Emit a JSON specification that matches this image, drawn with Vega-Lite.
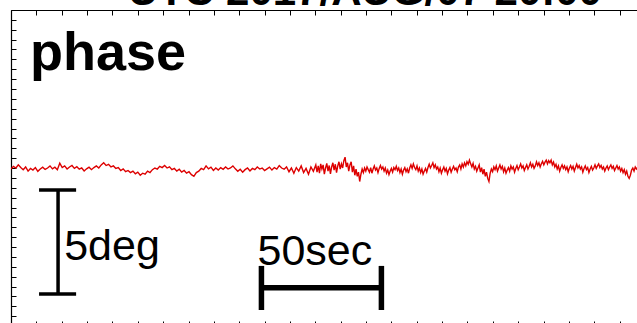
{
  "$schema": "https://vega.github.io/schema/vega-lite/v6.json",
  "width": 634,
  "height": 316,
  "autosize": {"type": "none"},
  "padding": {"left": 11, "top": 10, "right": 0, "bottom": 0},
  "background": "white",
  "config": {
    "view": {"stroke": null},
    "axis": {"grid": false, "labels": false, "domainColor": "black", "domainWidth": 1.2, "tickColor": "black", "tickWidth": 1}
  },
  "datasets": {
    "phase": [
      {"t":0,"v":0.05},{"t":1,"v":0.18},{"t":2,"v":0.10},{"t":3,"v":0.25},{"t":4,"v":0.12},{"t":5,"v":0.02},{"t":6,"v":0.15},{"t":7,"v":-0.05},{"t":8,"v":0.08},{"t":9,"v":0.00},
      {"t":10,"v":0.12},{"t":11,"v":-0.06},{"t":12,"v":0.05},{"t":13,"v":0.14},{"t":14,"v":0.03},{"t":15,"v":0.10},{"t":16,"v":0.20},{"t":17,"v":0.06},{"t":18,"v":0.14},{"t":19,"v":0.02},
      {"t":20,"v":0.33},{"t":21,"v":0.12},{"t":22,"v":0.20},{"t":23,"v":0.05},{"t":24,"v":0.15},{"t":25,"v":0.22},{"t":26,"v":0.08},{"t":27,"v":0.16},{"t":28,"v":0.04},{"t":29,"v":0.10},
      {"t":30,"v":-0.04},{"t":31,"v":0.06},{"t":32,"v":0.14},{"t":33,"v":0.02},{"t":34,"v":0.12},{"t":35,"v":0.20},{"t":36,"v":0.10},{"t":37,"v":0.25},{"t":38,"v":0.35},{"t":39,"v":0.22},
      {"t":40,"v":0.28},{"t":41,"v":0.15},{"t":42,"v":0.20},{"t":43,"v":0.08},{"t":44,"v":0.12},{"t":45,"v":-0.02},{"t":46,"v":0.06},{"t":47,"v":-0.08},{"t":48,"v":-0.02},{"t":49,"v":-0.12},
      {"t":50,"v":-0.05},{"t":51,"v":-0.18},{"t":52,"v":-0.10},{"t":53,"v":-0.25},{"t":54,"v":-0.15},{"t":55,"v":-0.20},{"t":56,"v":-0.05},{"t":57,"v":-0.12},{"t":58,"v":0.02},{"t":59,"v":0.10},
      {"t":60,"v":0.05},{"t":61,"v":0.18},{"t":62,"v":0.12},{"t":63,"v":0.22},{"t":64,"v":0.10},{"t":65,"v":0.16},{"t":66,"v":0.02},{"t":67,"v":0.08},{"t":68,"v":-0.05},{"t":69,"v":0.04},
      {"t":70,"v":-0.10},{"t":71,"v":-0.02},{"t":72,"v":-0.15},{"t":73,"v":-0.08},{"t":74,"v":-0.22},{"t":75,"v":-0.30},{"t":76,"v":-0.12},{"t":77,"v":-0.05},{"t":78,"v":0.08},{"t":79,"v":0.02},
      {"t":80,"v":0.20},{"t":81,"v":0.06},{"t":82,"v":0.14},{"t":83,"v":-0.02},{"t":84,"v":0.10},{"t":85,"v":0.00},{"t":86,"v":0.12},{"t":87,"v":0.04},{"t":88,"v":0.15},{"t":89,"v":0.05},
      {"t":90,"v":0.10},{"t":91,"v":0.20},{"t":92,"v":0.06},{"t":93,"v":-0.06},{"t":94,"v":0.04},{"t":95,"v":-0.10},{"t":96,"v":0.02},{"t":97,"v":0.10},{"t":98,"v":-0.04},{"t":99,"v":0.08},
      {"t":100,"v":0.02},{"t":101,"v":0.15},{"t":102,"v":0.05},{"t":103,"v":0.10},{"t":104,"v":-0.02},{"t":105,"v":0.06},{"t":106,"v":0.14},{"t":107,"v":0.00},{"t":108,"v":0.12},{"t":109,"v":0.05},
      {"t":110,"v":0.22},{"t":111,"v":0.10},{"t":112,"v":0.04},{"t":113,"v":0.15},{"t":114,"v":-0.08},{"t":115,"v":0.10},{"t":116,"v":-0.15},{"t":117,"v":0.12},{"t":118,"v":-0.05},{"t":119,"v":0.20},
      {"t":120,"v":-0.12},{"t":121,"v":0.08},{"t":122,"v":-0.20},{"t":123,"v":0.15},{"t":124,"v":-0.06},{"t":125,"v":0.25},
      {"t":125.5,"v":-0.10},{"t":126,"v":0.20},{"t":126.5,"v":-0.15},{"t":127,"v":0.30},{"t":127.5,"v":0.05},{"t":128,"v":0.25},{"t":128.5,"v":-0.20},{"t":129,"v":0.10},{"t":129.5,"v":0.32},{"t":130,"v":-0.05},
      {"t":130.5,"v":0.22},{"t":131,"v":-0.18},{"t":131.5,"v":0.15},{"t":132,"v":0.35},{"t":132.5,"v":0.00},{"t":133,"v":0.28},{"t":133.5,"v":-0.12},{"t":134,"v":0.20},{"t":134.5,"v":0.40},{"t":135,"v":0.05},
      {"t":135.5,"v":0.30},{"t":136,"v":0.10},{"t":136.5,"v":0.45},{"t":137,"v":0.62},{"t":137.5,"v":0.15},{"t":138,"v":0.35},{"t":138.5,"v":-0.05},{"t":139,"v":0.25},{"t":139.5,"v":0.40},{"t":140,"v":-0.10},
      {"t":140.5,"v":0.20},{"t":141,"v":-0.25},{"t":141.5,"v":0.05},{"t":142,"v":-0.30},{"t":142.5,"v":-0.10},{"t":143,"v":-0.55},{"t":143.5,"v":-0.20},{"t":144,"v":0.05},{"t":144.5,"v":-0.12},{"t":145,"v":0.10},
      {"t":145.5,"v":-0.05},{"t":146,"v":0.15},{"t":146.5,"v":0.02},{"t":147,"v":-0.10},{"t":147.5,"v":0.12},{"t":148,"v":-0.15},{"t":148.5,"v":0.05},{"t":149,"v":0.20},{"t":149.5,"v":0.00},{"t":150,"v":0.10},
      {"t":150.5,"v":-0.12},{"t":151,"v":0.08},{"t":151.5,"v":0.22},{"t":152,"v":0.05},{"t":152.5,"v":0.15},{"t":153,"v":-0.05},{"t":153.5,"v":0.10},{"t":154,"v":-0.15},{"t":154.5,"v":0.00},{"t":155,"v":-0.22},
      {"t":155.5,"v":-0.05},{"t":156,"v":0.08},{"t":156.5,"v":-0.10},{"t":157,"v":0.12},{"t":157.5,"v":0.02},{"t":158,"v":0.18},{"t":158.5,"v":-0.02},{"t":159,"v":0.10},{"t":159.5,"v":-0.12},{"t":160,"v":0.05},
      {"t":160.5,"v":-0.20},{"t":161,"v":0.00},{"t":161.5,"v":0.12},{"t":162,"v":-0.08},{"t":162.5,"v":0.06},{"t":163,"v":-0.15},{"t":163.5,"v":0.10},{"t":164,"v":0.25},{"t":164.5,"v":0.08},{"t":165,"v":0.30},
      {"t":165.5,"v":0.12},{"t":166,"v":0.02},{"t":166.5,"v":0.20},{"t":167,"v":-0.05},{"t":167.5,"v":0.10},{"t":168,"v":-0.12},{"t":168.5,"v":0.05},{"t":169,"v":-0.20},{"t":169.5,"v":-0.05},{"t":170,"v":0.08},
      {"t":170.5,"v":-0.10},{"t":171,"v":0.12},{"t":171.5,"v":0.28},{"t":172,"v":0.10},{"t":172.5,"v":0.22},{"t":173,"v":0.35},{"t":173.5,"v":0.12},{"t":174,"v":0.25},{"t":174.5,"v":0.05},{"t":175,"v":0.15},
      {"t":175.5,"v":-0.08},{"t":176,"v":0.10},{"t":176.5,"v":-0.15},{"t":177,"v":0.02},{"t":177.5,"v":0.15},{"t":178,"v":-0.05},{"t":178.5,"v":0.08},{"t":179,"v":-0.18},{"t":179.5,"v":0.00},{"t":180,"v":0.12},
      {"t":180.5,"v":-0.10},{"t":181,"v":0.05},{"t":181.5,"v":0.18},{"t":182,"v":0.02},{"t":182.5,"v":0.10},{"t":183,"v":-0.08},{"t":183.5,"v":0.15},{"t":184,"v":0.25},{"t":184.5,"v":0.05},{"t":185,"v":0.30},
      {"t":185.5,"v":0.15},{"t":186,"v":0.35},{"t":186.5,"v":0.20},{"t":187,"v":0.40},{"t":187.5,"v":0.28},{"t":188,"v":0.48},{"t":188.5,"v":0.30},{"t":189,"v":0.15},{"t":189.5,"v":0.32},{"t":190,"v":0.05},
      {"t":190.5,"v":0.18},{"t":191,"v":-0.05},{"t":191.5,"v":0.10},{"t":192,"v":0.25},{"t":192.5,"v":-0.10},{"t":193,"v":0.12},{"t":193.5,"v":-0.20},{"t":194,"v":0.05},{"t":194.5,"v":-0.30},{"t":195,"v":-0.10},
      {"t":195.5,"v":-0.40},{"t":196,"v":-0.55},{"t":196.5,"v":-0.15},{"t":197,"v":0.05},{"t":197.5,"v":-0.08},{"t":198,"v":0.15},{"t":198.5,"v":0.02},{"t":199,"v":0.20},{"t":199.5,"v":-0.05},{"t":200,"v":0.10},
      {"t":200.5,"v":0.25},{"t":201,"v":0.05},{"t":201.5,"v":0.18},{"t":202,"v":-0.08},{"t":202.5,"v":0.10},{"t":203,"v":-0.15},{"t":203.5,"v":0.00},{"t":204,"v":0.12},{"t":204.5,"v":-0.05},{"t":205,"v":0.20},
      {"t":205.5,"v":0.05},{"t":206,"v":0.15},{"t":206.5,"v":-0.10},{"t":207,"v":0.08},{"t":207.5,"v":0.22},{"t":208,"v":0.02},{"t":208.5,"v":0.15},{"t":209,"v":0.30},{"t":209.5,"v":0.10},{"t":210,"v":0.20},
      {"t":210.5,"v":-0.02},{"t":211,"v":0.12},{"t":211.5,"v":0.25},{"t":212,"v":0.05},{"t":212.5,"v":0.18},{"t":213,"v":0.35},{"t":213.5,"v":0.15},{"t":214,"v":0.28},{"t":214.5,"v":0.08},{"t":215,"v":0.20},
      {"t":215.5,"v":0.40},{"t":216,"v":0.22},{"t":216.5,"v":0.35},{"t":217,"v":0.15},{"t":217.5,"v":0.30},{"t":218,"v":0.42},{"t":218.5,"v":0.25},{"t":219,"v":0.38},{"t":219.5,"v":0.48},{"t":220,"v":0.30},
      {"t":220.5,"v":0.45},{"t":221,"v":0.35},{"t":221.5,"v":0.48},{"t":222,"v":0.25},{"t":222.5,"v":0.38},{"t":223,"v":0.15},{"t":223.5,"v":0.28},{"t":224,"v":0.05},{"t":224.5,"v":0.20},{"t":225,"v":-0.05},
      {"t":225.5,"v":0.12},{"t":226,"v":0.25},{"t":226.5,"v":0.08},{"t":227,"v":0.20},{"t":227.5,"v":0.02},{"t":228,"v":0.15},{"t":228.5,"v":-0.08},{"t":229,"v":0.10},{"t":229.5,"v":0.22},{"t":230,"v":0.05},
      {"t":230.5,"v":0.18},{"t":231,"v":-0.05},{"t":231.5,"v":0.12},{"t":232,"v":0.28},{"t":232.5,"v":0.10},{"t":233,"v":0.22},{"t":233.5,"v":0.05},{"t":234,"v":0.15},{"t":234.5,"v":-0.10},{"t":235,"v":0.08},
      {"t":235.5,"v":0.20},{"t":236,"v":0.02},{"t":236.5,"v":0.12},{"t":237,"v":-0.12},{"t":237.5,"v":0.05},{"t":238,"v":0.18},{"t":238.5,"v":0.00},{"t":239,"v":0.10},{"t":239.5,"v":0.25},{"t":240,"v":0.08},
      {"t":240.5,"v":0.20},{"t":241,"v":0.30},{"t":241.5,"v":0.12},{"t":242,"v":0.22},{"t":242.5,"v":0.05},{"t":243,"v":0.15},{"t":243.5,"v":-0.05},{"t":244,"v":0.10},{"t":244.5,"v":0.20},{"t":245,"v":0.02},
      {"t":245.5,"v":0.15},{"t":246,"v":0.25},{"t":246.5,"v":0.08},{"t":247,"v":0.18},{"t":247.5,"v":-0.02},{"t":248,"v":0.10},{"t":248.5,"v":0.22},{"t":249,"v":0.05},{"t":249.5,"v":0.15},{"t":250,"v":-0.05},
      {"t":250.5,"v":0.08},{"t":251,"v":-0.12},{"t":251.5,"v":0.02},{"t":252,"v":-0.20},{"t":252.5,"v":-0.05},{"t":253,"v":-0.30},{"t":253.5,"v":-0.40},{"t":254,"v":-0.25},{"t":254.5,"v":0.00},{"t":255,"v":0.10},
      {"t":255.5,"v":-0.05},{"t":256,"v":0.15},{"t":256.5,"v":0.05},{"t":257,"v":0.12},{"t":257.5,"v":-0.02},{"t":258,"v":0.08},{"t":258.5,"v":0.00},{"t":259,"v":0.10},{"t":259.5,"v":0.05},{"t":260,"v":0.08}
    ],
    "degbar": [
      {"x1": 19.3, "x2": 19.3, "y1": -0.96, "y2": -5.96},
      {"x1": 11.5, "x2": 26.7, "y1": -0.96, "y2": -0.96},
      {"x1": 11.5, "x2": 26.7, "y1": -5.96, "y2": -5.96}
    ],
    "secbar": [
      {"x1": 102.7, "x2": 151.9, "y1": -5.66, "y2": -5.66},
      {"x1": 102.7, "x2": 102.7, "y1": -4.61, "y2": -6.73},
      {"x1": 151.9, "x2": 151.9, "y1": -4.61, "y2": -6.73}
    ],
    "bold": [{"x": 7.8, "y": 4.81, "text": "phase"}],
    "plain": [
      {"x": 21.8, "y": -4.33, "text": "5deg"},
      {"x": 101.1, "y": -4.57, "text": "50sec"}
    ],
    "title": [{"x": 48, "y": 7.94, "text": "UTC 2017/AUG/07 20:00"}]
  },
  "layer": [
    {
      "data": {"name": "phase"},
      "mark": {"type": "line", "color": "#dd0000", "strokeWidth": 1.4, "clip": true},
      "encoding": {
        "x": {"field": "t", "type": "quantitative",
          "scale": {"domain": [0, 260], "nice": false, "zero": false},
          "axis": {"orient": "bottom", "title": null, "labels": false,
            "values": [0,10.4,20.8,31.2,41.6,52,62.4,72.8,83.2,93.6,104,114.4,124.8,135.2,145.6,156,166.4,176.8,187.2,197.6,208,218.4,228.8,239.2,249.6,260],
            "tickSize": -5,
            "encode": {"ticks": {"update": {"y2": {"signal": "indexof([0,52,104,156,208,260], datum.value) >= 0 ? -10 : -5"}}}}}},
        "y": {"field": "v", "type": "quantitative",
          "scale": {"domain": [-7.5, 7.7], "nice": false, "zero": false},
          "axis": {"orient": "left", "title": null, "labels": false,
            "values": [-7.5,-7.025,-6.55,-6.075,-5.6,-5.125,-4.65,-4.175,-3.7,-3.225,-2.75,-2.275,-1.8,-1.325,-0.85,-0.375,0.1,0.575,1.05,1.525,2,2.475,2.95,3.425,3.9,4.375,4.85,5.325,5.8,6.275,6.75,7.225,7.7],
            "tickSize": -5,
            "encode": {"ticks": {"update": {"x2": {"signal": "indexof([-7.5,-5.6,-3.7,-1.8,0.1,2,3.9,5.8,7.7], datum.value) >= 0 ? 10 : 5"}}}}}}
      }
    },
    {
      "data": {"name": "degbar"},
      "mark": {"type": "rule", "color": "black", "strokeWidth": 3.5},
      "encoding": {
        "x": {"field": "x1", "type": "quantitative",
          "axis": {"orient": "top", "title": null, "labels": false,
            "values": [0,10.4,20.8,31.2,41.6,52,62.4,72.8,83.2,93.6,104,114.4,124.8,135.2,145.6,156,166.4,176.8,187.2,197.6,208,218.4,228.8,239.2,249.6,260],
            "tickSize": -5,
            "encode": {"ticks": {"update": {"y2": {"signal": "indexof([0,52,104,156,208,260], datum.value) >= 0 ? 9 : 4.5"}}}}}},
        "x2": {"field": "x2"},
        "y": {"field": "y1", "type": "quantitative",
          "axis": {"orient": "right", "title": null, "labels": false,
            "values": [-7.5,-7.025,-6.55,-6.075,-5.6,-5.125,-4.65,-4.175,-3.7,-3.225,-2.75,-2.275,-1.8,-1.325,-0.85,-0.375,0.1,0.575,1.05,1.525,2,2.475,2.95,3.425,3.9,4.375,4.85,5.325,5.8,6.275,6.75,7.225,7.7],
            "tickSize": -5,
            "encode": {"ticks": {"update": {"x2": {"signal": "indexof([-7.5,-5.6,-3.7,-1.8,0.1,2,3.9,5.8,7.7], datum.value) >= 0 ? -10 : -5"}}}}}},
        "y2": {"field": "y2"}
      }
    },
    {
      "data": {"name": "secbar"},
      "mark": {"type": "rule", "color": "black", "strokeWidth": 5.5},
      "encoding": {
        "x": {"field": "x1", "type": "quantitative", "axis": null},
        "x2": {"field": "x2"},
        "y": {"field": "y1", "type": "quantitative", "axis": null},
        "y2": {"field": "y2"}
      }
    },
    {
      "data": {"name": "bold"},
      "mark": {"type": "text", "font": "Liberation Sans", "fontWeight": "bold", "fontSize": 54, "align": "left", "baseline": "alphabetic", "color": "black"},
      "encoding": {
        "x": {"field": "x", "type": "quantitative", "axis": null},
        "y": {"field": "y", "type": "quantitative", "axis": null},
        "text": {"field": "text"}
      }
    },
    {
      "data": {"name": "plain"},
      "mark": {"type": "text", "font": "Liberation Sans", "fontSize": 43, "align": "left", "baseline": "alphabetic", "color": "black"},
      "encoding": {
        "x": {"field": "x", "type": "quantitative", "axis": null},
        "y": {"field": "y", "type": "quantitative", "axis": null},
        "text": {"field": "text"}
      }
    },
    {
      "data": {"name": "title"},
      "mark": {"type": "text", "font": "Liberation Sans", "fontWeight": "bold", "fontSize": 42, "align": "left", "baseline": "alphabetic", "color": "black"},
      "encoding": {
        "x": {"field": "x", "type": "quantitative", "axis": null},
        "y": {"field": "y", "type": "quantitative", "axis": null},
        "text": {"field": "text"}
      }
    }
  ],
  "resolve": {"axis": {"x": "independent", "y": "independent"}}
}
